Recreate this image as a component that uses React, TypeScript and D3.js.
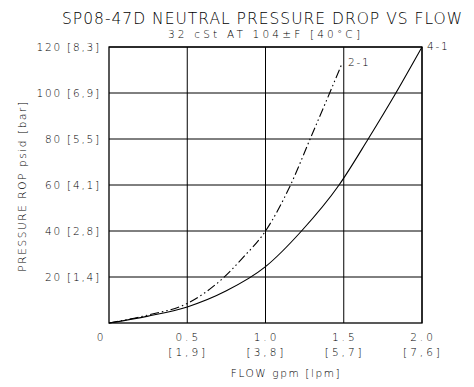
import React from "react";
import * as d3 from "d3";

const title = "SP08-47D NEUTRAL PRESSURE DROP VS FLOW";
const subtitle = "32 cSt AT 104±F [40°C]";
const xTicks = [0.5, 1.0, 1.5, 2.0];
const xTickLabels = ["0.5", "1.0", "1.5", "2.0"];
const xTickLpm = ["[1,9]", "[3,8]", "[5,7]", "[7,6]"];
const yTicks = [20, 40, 60, 80, 100, 120];
const yTickLabels = ["20 [1,4]", "40 [2,8]", "60 [4,1]", "80 [5,5]", "100 [6,9]", "120 [8,3]"];
const xTitle = "FLOW gpm [lpm]";
const yTitle = "PRESSURE ROP psid [bar]";

const flow21 = [0, 0.25, 0.5, 0.72, 0.85, 1.0, 1.16, 1.285, 1.41, 1.49];
const p21 = [0, 3.5, 8.5, 19, 28, 40, 60, 80, 100, 113];
const flow41 = [0, 0.25, 0.5, 0.75, 1.0, 1.23, 1.47, 1.656, 1.833, 2.0];
const p41 = [0, 3, 7, 14, 24.5, 40, 60, 80, 100, 120];

const FONT = "'DejaVu Sans', sans-serif";

export default function App() {
  const left = 109, right = 422, top = 47, bottom = 323;
  const x = d3.scaleLinear().domain([0, 2]).range([left, right]);
  const y = d3.scaleLinear().domain([0, 120]).range([bottom, top]);
  const line = d3
    .line<[number, number]>()
    .x((d) => x(d[0]))
    .y((d) => y(d[1]))
    .curve(d3.curveMonotoneX);
  const d21 = line(flow21.map((f, i) => [f, p21[i]] as [number, number])) || "";
  const d41 = line(flow41.map((f, i) => [f, p41[i]] as [number, number])) || "";
  const txt = { fontFamily: FONT, fill: "#000", fontWeight: 200 } as const;

  return (
    <svg width={474} height={387} style={{ position: "absolute", left: 0, top: 0, background: "#fff" }}>
      <rect x={0} y={0} width={474} height={387} fill="#fff" />
      <text x={62} y={23.5} fontSize={15.5} textLength={400} lengthAdjust="spacing" {...txt}>
        {title}
      </text>
      <text x={168} y={38} fontSize={10.5} textLength={192} lengthAdjust="spacing" {...txt}>
        {subtitle}
      </text>
      {xTicks.map((t) => (
        <line key={"gx" + t} x1={x(t)} x2={x(t)} y1={top} y2={bottom} stroke="#000" strokeWidth={1} />
      ))}
      {yTicks.map((t) => (
        <line key={"gy" + t} x1={left} x2={right} y1={y(t)} y2={y(t)} stroke="#000" strokeWidth={1} />
      ))}
      <rect x={left} y={top} width={right - left} height={bottom - top} fill="none" stroke="#000" strokeWidth={1.3} />
      <path d={d41} fill="none" stroke="#000" strokeWidth={1.1} />
      <path d={d21} fill="none" stroke="#000" strokeWidth={1.1} strokeDasharray="9 3 1.5 3 1.5 3" />
      {yTicks.map((t, i) => (
        <text key={"yl" + t} x={101} y={y(t) + 4} fontSize={10.5} textAnchor="end" letterSpacing={1.8} {...txt}>
          {yTickLabels[i]}
        </text>
      ))}
      <text x={100} y={341} fontSize={10.5} textAnchor="middle" {...txt}>0</text>
      {xTicks.map((t, i) => (
        <g key={"xl" + t}>
          <text x={x(t) + 1} y={341} fontSize={10.5} textAnchor="middle" letterSpacing={3} {...txt}>
            {xTickLabels[i]}
          </text>
          <text x={x(t) + 1} y={356} fontSize={10.5} textAnchor="middle" letterSpacing={3} {...txt}>
            {xTickLpm[i]}
          </text>
        </g>
      ))}
      <text x={286} y={377} fontSize={10.5} textAnchor="middle" letterSpacing={1.6} {...txt}>
        {xTitle}
      </text>
      <text
        transform={`translate(26,${186}) rotate(-90)`}
        fontSize={10.5}
        textAnchor="middle"
        letterSpacing={1.6}
        {...txt}
      >
        {yTitle}
      </text>
      <text x={348} y={66} fontSize={10.5} letterSpacing={1.8} {...txt}>2-1</text>
      <text x={427} y={50} fontSize={10.5} letterSpacing={1.8} {...txt}>4-1</text>
    </svg>
  );
}
